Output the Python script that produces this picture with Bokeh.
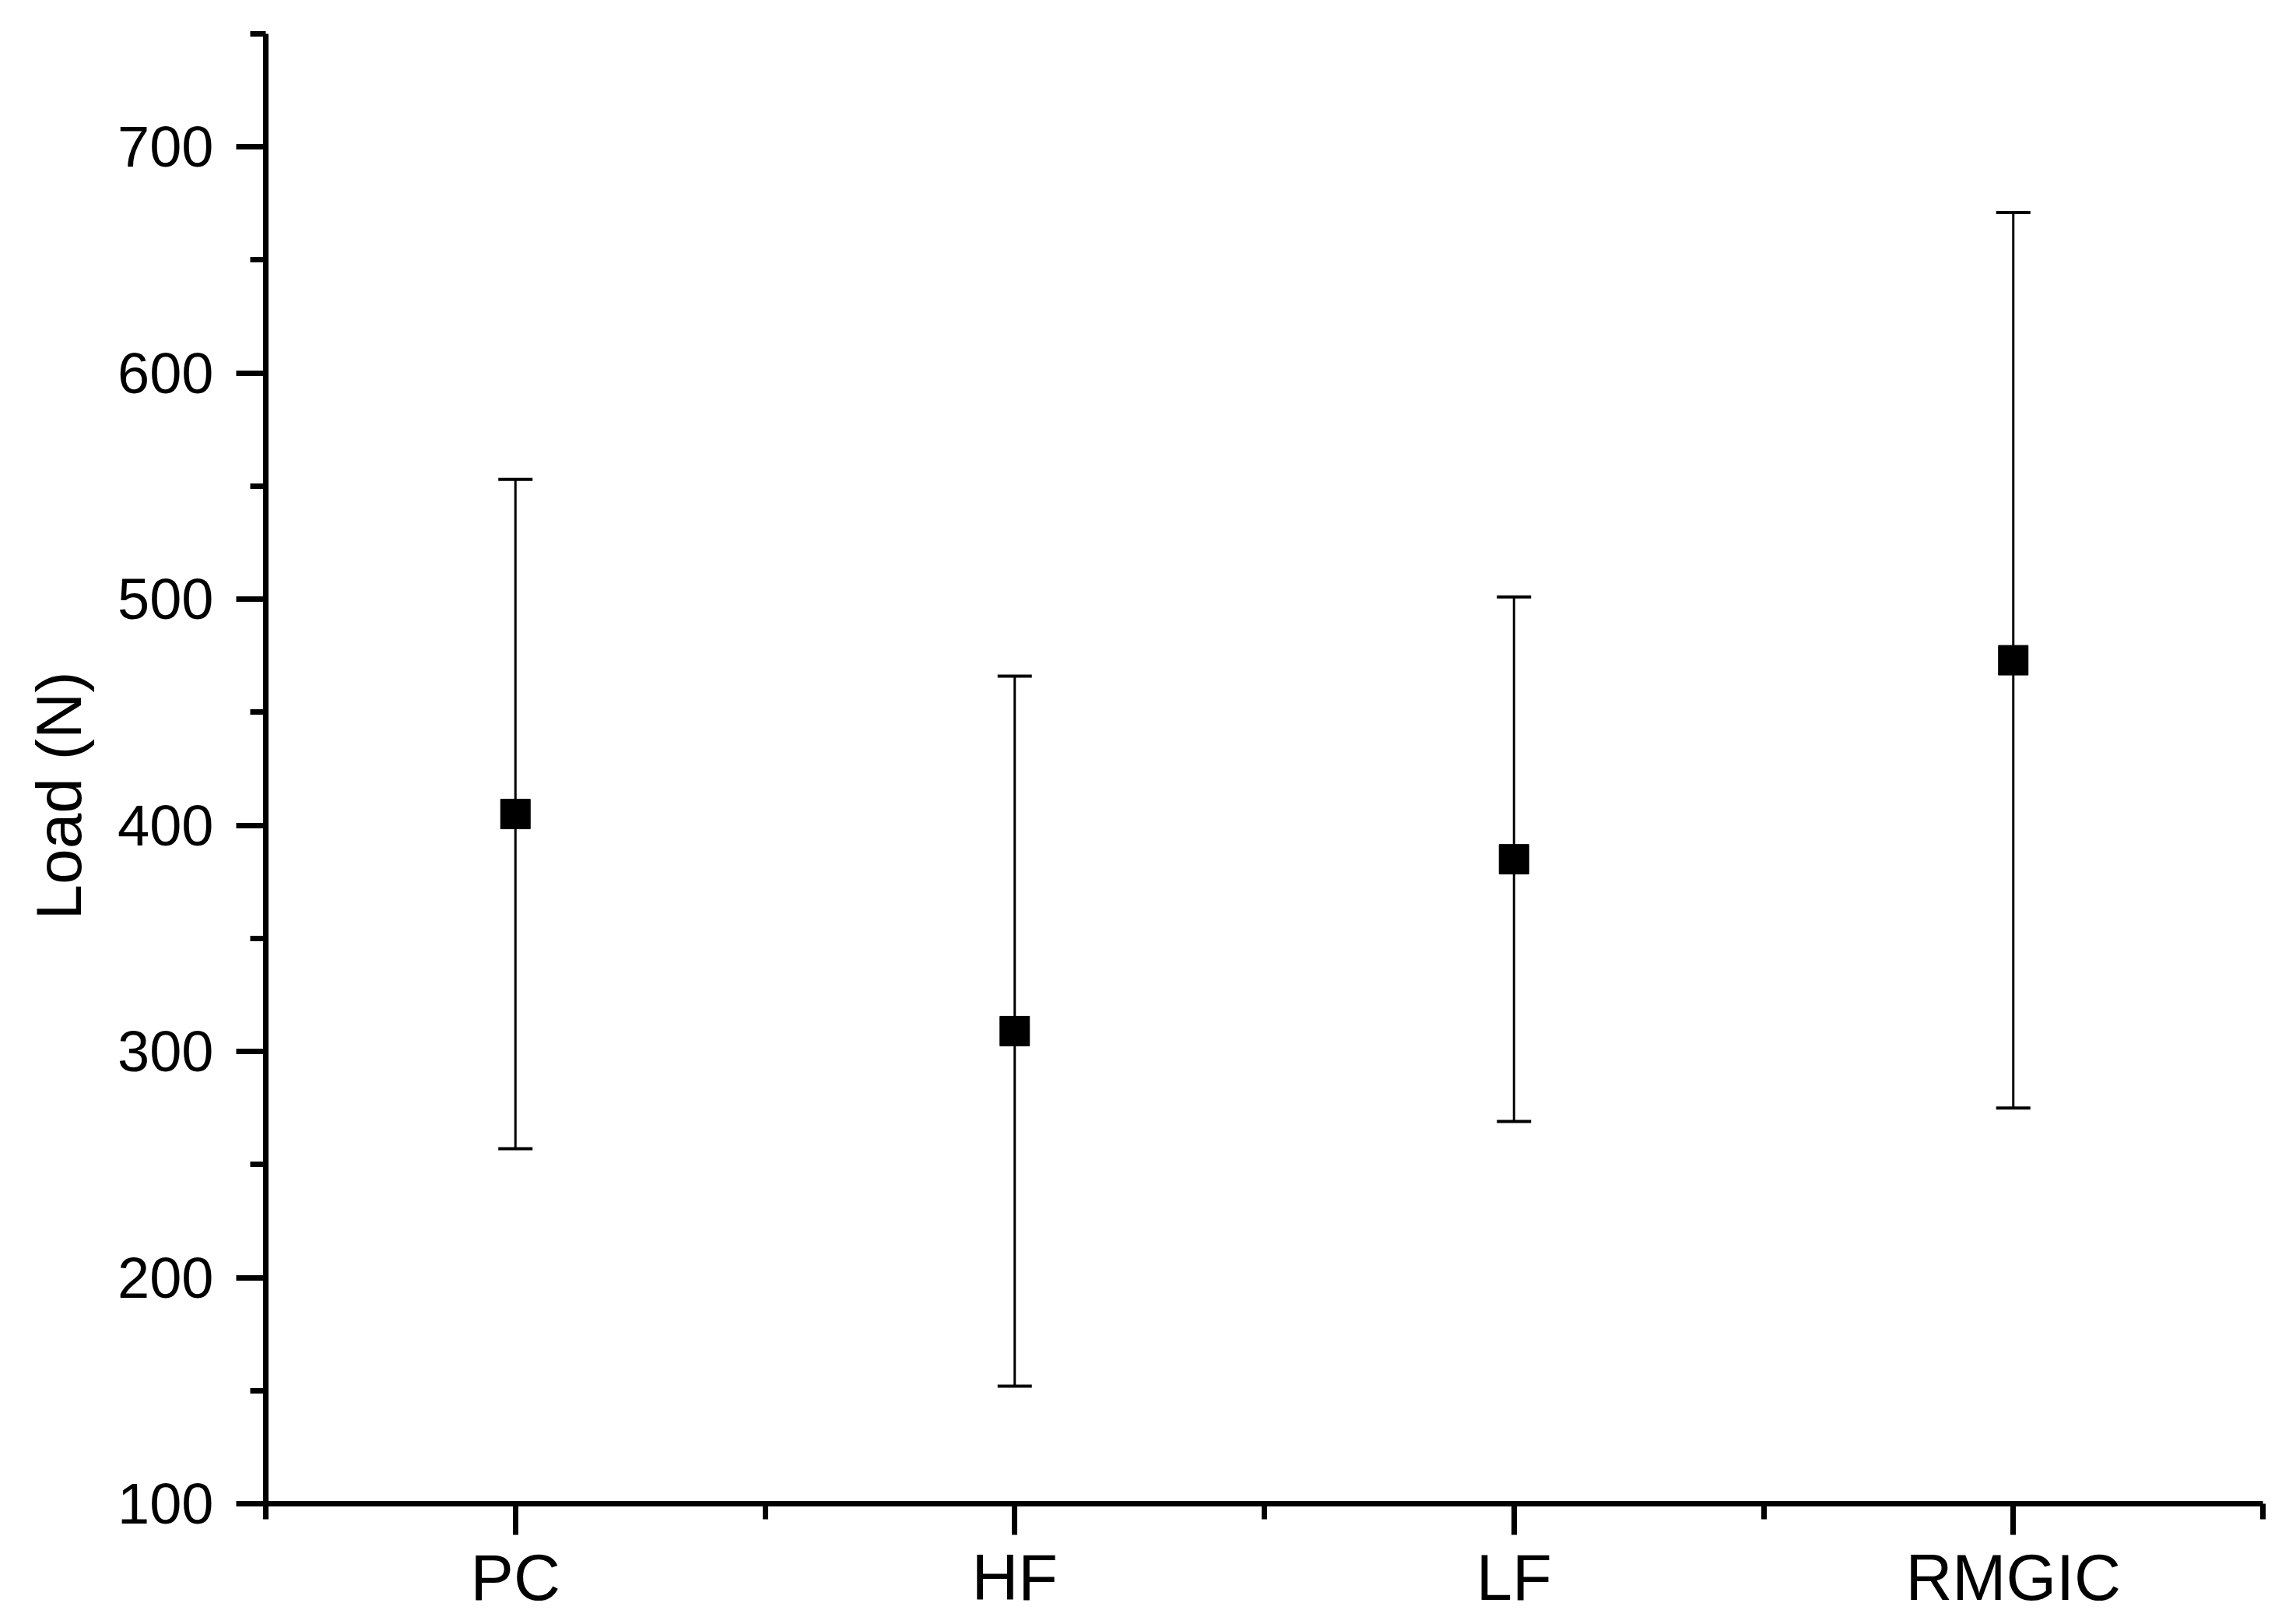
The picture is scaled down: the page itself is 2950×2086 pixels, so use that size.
from bokeh.plotting import figure
from bokeh.models import (ColumnDataSource, FixedTicker, Whisker, TeeHead, Range1d, Title)
from bokeh.embed import file_html
from bokeh.resources import INLINE

# ---- data ----
categories = ["PC", "HF", "LF", "RMGIC"]
means = [405, 309, 385, 473]
sds = [148, 157, 116, 198]
y_ticks = [100, 200, 300, 400, 500, 600, 700]
y_minor = [150, 250, 350, 450, 550, 650, 750]

xs = [i + 1 for i in range(len(categories))]
src = ColumnDataSource(dict(
    x=xs,
    mean=means,
    upper=[m + s for m, s in zip(means, sds)],
    lower=[m - s for m, s in zip(means, sds)],
))

W, H = 2942, 2078
p = figure(width=W, height=H, output_backend="svg", toolbar_location=None,
           x_range=Range1d(0.5, len(categories) + 0.5), y_range=Range1d(100, 750),
           min_border_left=340, min_border_right=35, min_border_top=43,
           min_border_bottom=147)
p.outline_line_color = None
p.xgrid.visible = False
p.ygrid.visible = False
p.background_fill_color = "white"
p.border_fill_color = "white"

FONT = "Liberation Sans"

# x axis
xa = p.xaxis[0]
xa.ticker = FixedTicker(ticks=xs, minor_ticks=[x - 0.5 for x in xs] + [xs[-1] + 0.5])
xa.major_label_overrides = {x: c for x, c in zip(xs, categories)}
xa.axis_line_width = 7
xa.major_tick_line_width = 7
xa.minor_tick_line_width = 7
xa.major_tick_out = 40
xa.major_tick_in = 0
xa.minor_tick_out = 20
xa.minor_tick_in = 0
xa.major_label_text_font = FONT
xa.major_label_text_font_size = "83px"
xa.major_label_text_color = "black"
xa.major_label_standoff = 8
xa.axis_line_color = "black"
xa.major_tick_line_color = "black"
xa.minor_tick_line_color = "black"

# y axis
ya = p.yaxis[0]
ya.ticker = FixedTicker(ticks=y_ticks, minor_ticks=y_minor)
ya.axis_line_width = 7
ya.major_tick_line_width = 7
ya.minor_tick_line_width = 7
ya.major_tick_out = 38
ya.major_tick_in = 0
ya.minor_tick_out = 20
ya.minor_tick_in = 0
ya.major_label_text_font = FONT
ya.major_label_text_font_size = "74px"
ya.major_label_text_color = "black"
ya.major_label_standoff = 29
ya.axis_line_color = "black"
ya.major_tick_line_color = "black"
ya.minor_tick_line_color = "black"

# y-axis title as a side title (allows the small vertical offset of the original)
p.add_layout(Title(text="Load (N)", align="left", offset=750, standoff=55,
                   text_font=FONT, text_font_size="82px",
                   text_font_style="normal", text_color="black"), "left")

# error bars
w = Whisker(source=src, base="x", upper="upper", lower="lower",
            line_color="black", line_width=3,
            upper_head=TeeHead(size=44, line_width=4, line_color="black"),
            lower_head=TeeHead(size=44, line_width=4, line_color="black"))
p.add_layout(w)

# means
p.scatter("x", "mean", source=src, marker="square", size=38,
          fill_color="black", line_color="black")

open("out.html", "w").write(file_html(p, INLINE))
